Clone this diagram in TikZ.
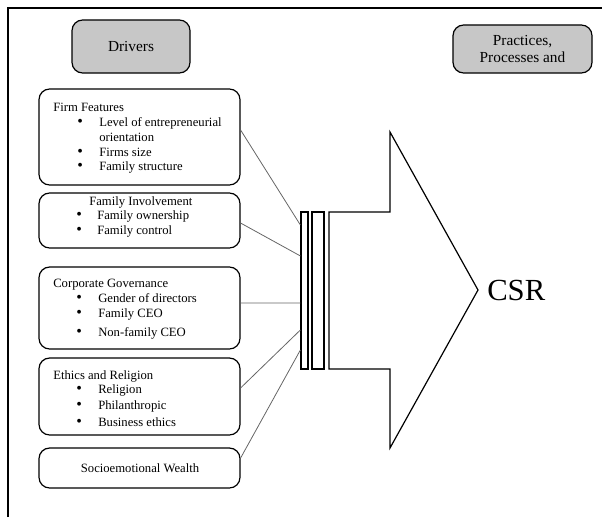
\documentclass[tikz,border=0pt]{standalone}
\usepackage{fontspec}
\setmainfont{Liberation Serif}
\newcommand{\itm}[2][16.5pt]{\makebox[#1][l]{\smash{\fontsize{12pt}{12pt}\selectfont •}}#2}
\begin{document}
\begin{tikzpicture}[x=0.75pt,y=-0.75pt,
  rbox/.style={draw=black,line width=0.9pt,rounded corners=8pt,inner sep=0pt},
  hbox/.style={rbox,fill=black!22},
  txt/.style={inner sep=0pt,anchor=west,font=\rmfamily\fontsize{9.5pt}{11pt}\selectfont},
  htxt/.style={inner sep=0pt,align=center,font=\rmfamily\fontsize{11.5pt}{12.5pt}\selectfont},
  bar/.style={draw=black,line width=0.9pt,inner sep=0pt},
  link/.style={draw=black!60,line width=0.6pt}]
\useasboundingbox (0,0) rectangle (602,517);
% frame
\draw[line width=1.5pt] (8,517) -- (8,8) -- (602,8);
% header boxes
\node[hbox,minimum width=88.5pt,minimum height=39.75pt] (drv) at (131,46.5) {};
\node[htxt] (drvt) at (131,46.5) {Drivers};
\node[hbox,minimum width=104.25pt,minimum height=36pt] (prc) at (522.5,49) {};
\node[htxt] (prct) at (522.5,49) {Practices,\\Processes and};
% driver boxes
\node[rbox,minimum width=150.75pt,minimum height=72pt] (ff) at (139.5,137) {};
\node[rbox,minimum width=150.75pt,minimum height=41.25pt] (fi) at (139.5,220.5) {};
\node[rbox,minimum width=150.75pt,minimum height=61.5pt] (cg) at (139.5,308) {};
\node[rbox,minimum width=150.75pt,minimum height=57.75pt] (er) at (139.5,396.5) {};
\node[rbox,minimum width=150.75pt,minimum height=30pt] (sw) at (139.5,468) {};
% firm features
\node[txt] (ff0) at (53,107) {Firm Features};
\node[txt] (ff1) at (77,123) {\itm{Level of entrepreneurial}};
\node[txt] (ff1b) at (99,137) {orientation};
\node[txt] (ff2) at (77,152) {\itm{Firms size}};
\node[txt] (ff3) at (77,167) {\itm{Family structure}};
% family involvement
\node[txt] (fi0) at (89,202) {Family Involvement};
\node[txt] (fi1) at (76,216) {\itm[15.75pt]{Family ownership}};
\node[txt] (fi2) at (76,231) {\itm[15.75pt]{Family control}};
% corporate governance
\node[txt] (cg0) at (53,284.5) {Corporate Governance};
\node[txt] (cg1) at (76,298.5) {\itm{Gender of directors}};
\node[txt] (cg2) at (76,314) {\itm{Family CEO}};
\node[txt] (cg3) at (76,333) {\itm{Non-family CEO}};
% ethics and religion
\node[txt] (er0) at (53,376) {Ethics and Religion};
\node[txt] (er1) at (76,390) {\itm{Religion}};
\node[txt] (er2) at (76,406) {\itm{Philanthropic}};
\node[txt] (er3) at (76,422) {\itm{Business ethics}};
% socioemotional
\node[txt,anchor=center] (sw0) at (140,468) {Socioemotional Wealth};
% bars
\node[bar,minimum width=5.25pt,minimum height=117.75pt] (b1) at (304.5,290.5) {};
\node[bar,minimum width=9pt,minimum height=117.75pt] (b2) at (318,290.5) {};
% arrow
\draw[line width=0.9pt] (329,212) coordinate (a1) -- (390,212) -- (390,132) -- (478,290) coordinate (tip) -- (390,448) -- (390,369) -- (329,369) -- cycle;
\node[inner sep=0pt,anchor=west,font=\rmfamily\fontsize{23pt}{24pt}\selectfont] (csr) at (487,290) {CSR};
% connectors
\draw[link] ([yshift=5.25pt]ff.east) -- ([yshift=49.1pt]b1.west);
\draw[link] ([yshift=-1.9pt]fi.east) -- ([yshift=25.9pt]b1.west);
\draw[link] ([yshift=3.75pt]cg.east) -- ([yshift=-9.4pt]b1.west);
\draw[link] ([yshift=6.4pt]er.east) -- ([yshift=-29.6pt]b1.west);
\draw[link] ([yshift=7.5pt]sw.east) -- ([yshift=-44.6pt]b1.west);
\end{tikzpicture}
\end{document}
